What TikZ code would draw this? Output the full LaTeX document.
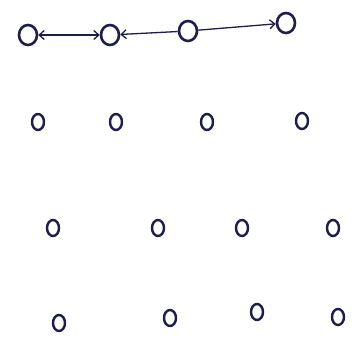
\documentclass[tikz,border=0pt]{standalone}
\usetikzlibrary{shapes.geometric,arrows.meta}
\definecolor{ink}{HTML}{1E1E4A}
\tikzset{mybarb/.tip={Straight Barb[length=5pt,width=9pt,line width=1.3pt]}}
\begin{document}
\begin{tikzpicture}[x=1pt,y=-1pt,
  bignode/.style={ellipse,draw=ink,line width=2.6pt,minimum width=18pt,minimum height=20pt,inner sep=0pt},
  dotnode/.style={ellipse,draw=ink,line width=2.4pt,minimum width=12pt,minimum height=16pt,inner sep=0pt},
  link/.style={draw=ink,line width=1.3pt}]
\fill[white] (0,0) rectangle (360,343);
\useasboundingbox (0,0) rectangle (360,343);
% row 1
\node[bignode] (a1) at (28,35) {};
\node[bignode] (a2) at (110,35) {};
\node[bignode] (a3) at (188,31) {};
\node[bignode] (a4) at (286,23) {};
\draw[link,mybarb-mybarb] (a1) -- (a2);
\draw[link,mybarb-] (a2) -- (a3);
\draw[link,-mybarb] (a3) -- (a4);
% row 2
\node[dotnode] (b1) at (38,122) {};
\node[dotnode] (b2) at (116,122) {};
\node[dotnode] (b3) at (207,122) {};
\node[dotnode] (b4) at (302,121) {};
% row 3
\node[dotnode] (c1) at (53,228) {};
\node[dotnode] (c2) at (158,228) {};
\node[dotnode] (c3) at (242,228) {};
\node[dotnode] (c4) at (333,228) {};
% row 4
\node[dotnode] (d1) at (59,323) {};
\node[dotnode] (d2) at (170,318) {};
\node[dotnode] (d3) at (257,312) {};
\node[dotnode] (d4) at (338,317) {};
\end{tikzpicture}
\end{document}
